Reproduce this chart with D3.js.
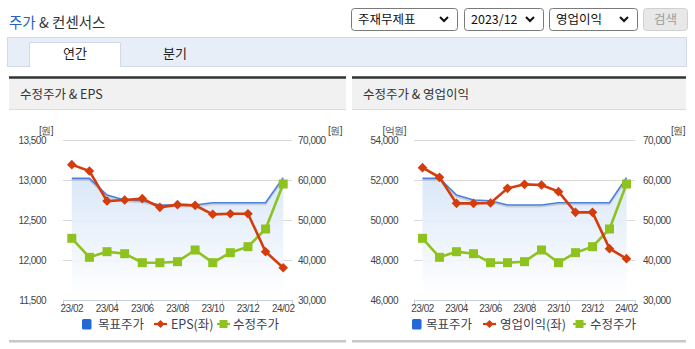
<!DOCTYPE html>
<html><head><meta charset="utf-8">
<script src="https://cdn.jsdelivr.net/npm/d3@7"></script>
<style>
html,body{margin:0;padding:0;background:#fff;}
svg{display:block;}
text{font-family:"Noto Sans CJK KR","Noto Sans",sans-serif;}
.num{font-family:"Liberation Sans",Arial,sans-serif;font-size:10px;letter-spacing:-0.5px;fill:#444;}
</style></head>
<body>
<svg id="c" width="695" height="349"></svg>
<script>
// ---- data ----
const months = ['23/02','23/03','23/04','23/05','23/06','23/07','23/08','23/09','23/10','23/11','23/12','24/01','24/02'];
const tickMonths = ['23/02','23/04','23/06','23/08','23/10','23/12','24/02'];
const targetPrice = [60400,60400,56250,55000,54800,53750,53750,53750,54330,54330,54330,54330,60600];
const adjPrice = [45420,40670,42080,41580,39330,39330,39580,42500,39330,41830,43330,47750,59000];
const eps = [13192,13112,12737,12750,12767,12658,12692,12683,12571,12579,12579,12104,11904];
const opProfit = [52617,52133,50833,50833,50850,51583,51783,51750,51417,50383,50383,48567,48067];
const epsTicks = [11500,12000,12500,13000,13500];
const opTicks = [46000,48000,50000,52000,54000];
const priceTicks = [30000,40000,50000,60000,70000];

const svg = d3.select('#c');
const fmt = d3.format(',');
const RED = '#d43c0c', GREEN = '#8dc21f', BLUE = '#4a7fdc', BLUESQ = '#2468d8';

// gradient for target area
const defs = svg.append('defs');
const g = defs.append('linearGradient').attr('id','areaGrad').attr('x1',0).attr('y1',0).attr('x2',0).attr('y2',1);
g.append('stop').attr('offset','0%').attr('stop-color','#d6e5f8');
g.append('stop').attr('offset','100%').attr('stop-color','#ffffff');

// ---- page header ----
const title = svg.append('text').attr('x',9).attr('y',28).attr('font-size','14.5px');
title.append('tspan').attr('fill','#2a5fc7').text('주가');
title.append('tspan').attr('fill','#333').text(' & 컨센서스');

function selectBox(x, w, label){
  svg.append('rect').attr('x',x+0.5).attr('y',8.5).attr('width',w).attr('height',22).attr('rx',3)
    .attr('fill','#fff').attr('stroke','#7a7a7a');
  svg.append('text').attr('x',x+7).attr('y',24).attr('font-size','12.5px').attr('fill','#111').text(label);
  const cx = x+w-13;
  svg.append('path').attr('d',`M${cx-4},${17} L${cx},${21} L${cx+4},${17}`)
    .attr('fill','none').attr('stroke','#111').attr('stroke-width',2);
}
selectBox(351,106,'주재무제표');
selectBox(464,79,'2023/12');
selectBox(549,88,'영업이익');
svg.append('rect').attr('x',643.5).attr('y',8.5).attr('width',44).attr('height',22).attr('rx',3)
  .attr('fill','#e8e8e8').attr('stroke','#d0d0d0');
svg.append('text').attr('x',665.5).attr('y',24).attr('text-anchor','middle').attr('font-size','12.5px').attr('fill','#9a9a9a').text('검색');

// tab bar
svg.append('rect').attr('x',7.5).attr('y',37.5).attr('width',679).attr('height',29).attr('fill','#e8eef8').attr('stroke','#d2dae8');
svg.append('path').attr('d','M29.5,67 V42.5 H120.5 V67').attr('fill','#fff').attr('stroke','#d2dae8');
svg.append('rect').attr('x',30).attr('y',43).attr('width',90).attr('height',24).attr('fill','#fff');
svg.append('text').attr('x',75).attr('y',58).attr('text-anchor','middle').attr('font-size','13px').attr('fill','#222').text('연간');
svg.append('text').attr('x',175).attr('y',58).attr('text-anchor','middle').attr('font-size','13px').attr('fill','#222').text('분기');

// ---- chart panel ----
function panel(opt){
  const {px0, px1, heading, x0, x1, leftDomain, leftTicks, leftVals, leftName, leftUnit,
         leftLabelRight, rightLabelLeft, leftUnitEnd, rightUnitEnd, legendX} = opt;
  const top = 140, bottom = 300;
  // header
  svg.append('rect').attr('x',px0).attr('y',78).attr('width',px1-px0).attr('height',31).attr('fill','#f1f1f1');
  svg.append('line').attr('x1',px0).attr('x2',px1).attr('y1',77.5).attr('y2',77.5).attr('stroke','#333').attr('stroke-width',2.5);
  svg.append('line').attr('x1',px0).attr('x2',px1).attr('y1',109.5).attr('y2',109.5).attr('stroke','#dcdcdc');
  svg.append('text').attr('x',px0+11).attr('y',99).attr('font-size','12.5px').attr('fill','#333').text(heading);
  // bottom rule
  svg.append('rect').attr('x',px0).attr('y',340).attr('width',px1-px0).attr('height',2.5).attr('fill','#c8c8c8');

  const x = d3.scaleBand().domain(months).range([x0,x1]);
  const xc = m => x(m) + x.bandwidth()/2;
  const yL = d3.scaleLinear().domain(leftDomain).range([bottom,top]);
  const yR = d3.scaleLinear().domain([30000,70000]).range([bottom,top]);

  // grid
  svg.append('g').selectAll('line').data(leftTicks.slice(1)).join('line')
    .attr('x1',x0).attr('x2',x1).attr('y1',d=>Math.round(yL(d))+0.5).attr('y2',d=>Math.round(yL(d))+0.5)
    .attr('stroke','#dadada');
  // axis labels
  svg.append('g').selectAll('text').data(leftTicks).join('text').attr('class','num')
    .attr('x',leftLabelRight).attr('y',d=>yL(d)+3.5).attr('text-anchor','end').text(d=>fmt(d));
  svg.append('g').selectAll('text').data(priceTicks).join('text').attr('class','num')
    .attr('x',rightLabelLeft).attr('y',d=>yR(d)+3.5).text(d=>fmt(d));
  svg.append('text').attr('class','num').attr('x',leftUnitEnd).attr('y',133.5).attr('text-anchor','end').text(leftUnit);
  svg.append('text').attr('class','num').attr('x',rightUnitEnd).attr('y',133.5).attr('text-anchor','end').text('[원]');

  // x axis
  svg.append('line').attr('x1',x0).attr('x2',x1).attr('y1',bottom+0.5).attr('y2',bottom+0.5).attr('stroke','#c4cfe0');
  const tickIdx = [0,3,5,7,9,11,13];
  svg.append('g').selectAll('line').data(tickIdx).join('line')
    .attr('x1',i=>Math.round(x0+i*x.step())+0.5).attr('x2',i=>Math.round(x0+i*x.step())+0.5)
    .attr('y1',bottom).attr('y2',bottom+5).attr('stroke','#c4cfe0');
  svg.append('g').selectAll('text').data(tickMonths).join('text').attr('class','num')
    .attr('x',d=>xc(d)).attr('y',bottom+12).attr('text-anchor','middle').text(d=>d);

  // target area + line
  const area = d3.area().x((d,i)=>xc(months[i])).y0(bottom-4).y1(d=>yR(d));
  svg.append('path').datum(targetPrice).attr('d',area).attr('fill','url(#areaGrad)').attr('opacity',0.9);
  const tline = d3.line().x((d,i)=>xc(months[i])).y(d=>yR(d));
  svg.append('path').datum(targetPrice).attr('d',tline).attr('fill','none')
    .attr('stroke','#777').attr('stroke-opacity',0.25).attr('stroke-width',2).attr('transform','translate(0,1.5)');
  svg.append('path').datum(targetPrice).attr('d',tline).attr('fill','none').attr('stroke',BLUE).attr('stroke-width',1.6);

  // adjusted price
  svg.append('path').datum(adjPrice).attr('d',tline).attr('fill','none').attr('stroke',GREEN).attr('stroke-width',2.6);
  svg.append('g').selectAll('rect').data(adjPrice).join('rect')
    .attr('x',(d,i)=>xc(months[i])-4.5).attr('y',d=>yR(d)-4.5).attr('width',9).attr('height',9).attr('fill',GREEN);

  // left series
  const lline = d3.line().x((d,i)=>xc(months[i])).y(d=>yL(d));
  svg.append('path').datum(leftVals).attr('d',lline).attr('fill','none').attr('stroke',RED).attr('stroke-width',2.6);
  svg.append('g').selectAll('path').data(leftVals).join('path')
    .attr('transform',(d,i)=>`translate(${xc(months[i])},${yL(d)})`)
    .attr('d','M0,-4.8 L4.8,0 L0,4.8 L-4.8,0 Z').attr('fill',RED);

  // legend
  const ly = 324;
  const L = legendX;
  const fs = '12.5px';
  svg.append('rect').attr('x',L[0]).attr('y',ly-5).attr('width',9.5).attr('height',10.5).attr('rx',1.5).attr('fill',BLUESQ);
  svg.append('text').attr('x',L[1]).attr('y',ly+5).attr('font-size',fs).attr('fill','#3a3f52').text('목표주가');
  svg.append('line').attr('x1',L[2]).attr('x2',L[2]+13).attr('y1',ly).attr('y2',ly).attr('stroke',RED).attr('stroke-width',2.2);
  svg.append('path').attr('transform',`translate(${L[2]+6.5},${ly})`).attr('d','M0,-4 L4,0 L0,4 L-4,0 Z').attr('fill',RED);
  svg.append('text').attr('x',L[3]).attr('y',ly+5).attr('font-size',fs).attr('fill','#3a3f52').text(leftName);
  svg.append('line').attr('x1',L[4]).attr('x2',L[4]+13).attr('y1',ly).attr('y2',ly).attr('stroke',GREEN).attr('stroke-width',2.2);
  svg.append('rect').attr('x',L[4]+2.5).attr('y',ly-4).attr('width',8).attr('height',8).attr('fill',GREEN);
  svg.append('text').attr('x',L[5]).attr('y',ly+5).attr('font-size',fs).attr('fill','#3a3f52').text('수정주가');
}

panel({px0:9, px1:346, heading:'수정주가 & EPS', x0:63, x1:292,
  leftDomain:[11500,13500], leftTicks:epsTicks, leftVals:eps, leftName:'EPS(좌)', leftUnit:'[원]',
  leftLabelRight:46, rightLabelLeft:298, leftUnitEnd:53, rightUnitEnd:342,
  legendX:[82,98,154,171,217,233]});
panel({px0:352, px1:686, heading:'수정주가 & 영업이익', x0:414, x1:635,
  leftDomain:[46000,54000], leftTicks:opTicks, leftVals:opProfit, leftName:'영업이익(좌)', leftUnit:'[억원]',
  leftLabelRight:398, rightLabelLeft:643, leftUnitEnd:406, rightUnitEnd:685,
  legendX:[412,426,483,500,573,590]});
</script>
</body></html>
